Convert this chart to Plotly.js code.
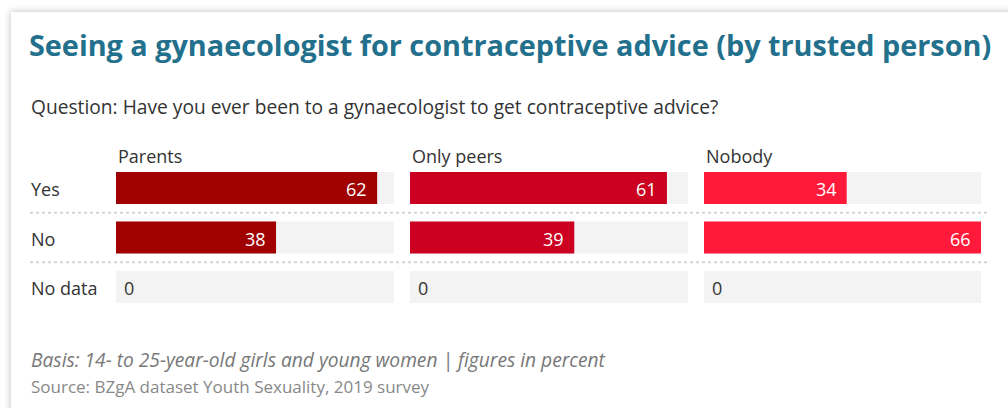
<!DOCTYPE html>
<html>
<head>
<meta charset="utf-8">
<script src="https://cdn.plot.ly/plotly-3.0.1.min.js"></script>
<style>
  html, body { margin:0; padding:0; background:#ffffff; width:1008px; height:408px; overflow:hidden; }
  #card { position:absolute; left:11px; top:12px; width:1020px; height:420px; background:#fff;
          box-shadow: 0 0 7px rgba(0,0,0,0.28); }
  #chart { position:absolute; left:0; top:0; width:1008px; height:408px; }
</style>
</head>
<body>
<div id="card"></div>
<div id="chart"></div>
<script>
// ---- data ----
const answers = ["Yes", "No", "No data"];
const groups = ["Parents", "Only peers", "Nobody"];
const parents = [62, 38, 0];
const onlyPeers = [61, 39, 0];
const nobody = [34, 66, 0];
const groupColors = ["#a00000", "#cc0020", "#ff1a3c"];

const titleText = "Seeing a gynaecologist for contraceptive advice (by trusted person)";
const questionText = "Question: Have you ever been to a gynaecologist to get contraceptive advice?";
const basisText = "Basis: 14- to 25-year-old girls and young women | figures in percent";
const sourceText = "Source: BZgA dataset Youth Sexuality, 2019 survey";

const series = [parents, onlyPeers, nobody];
const maxVal = Math.max(...series.flat());

const W = 1008, H = 408;
const font = "'Open Sans', Lato, sans-serif";
const xDomains = [[116, 394], [410, 688], [704, 981]].map(d => [d[0] / W, d[1] / W]);
const yDomain = [1 - 311.75 / H, 1 - 163.25 / H];
const barW = 0.646;
const idx = answers.map((_, i) => i);

const traces = [];
const layout = {
  width: W, height: H,
  margin: { l: 0, r: 0, t: 0, b: 0 },
  paper_bgcolor: "rgba(0,0,0,0)",
  plot_bgcolor: "rgba(0,0,0,0)",
  barmode: "overlay",
  showlegend: false,
  font: { family: font, color: "#333" },
  title: {
    text: "<b>" + titleText + "</b>",
    x: 29 / W, xanchor: "left", xref: "paper",
    y: 1 - 46 / H, yanchor: "middle", yref: "paper",
    font: { family: font, size: 28.8, color: "#23708d" }
  },
  annotations: [],
  shapes: []
};

series.forEach((vals, g) => {
  const xa = g === 0 ? "x" : "x" + (g + 1);
  const ya = g === 0 ? "y" : "y" + (g + 1);
  // background track
  traces.push({
    type: "bar", orientation: "h", x: idx.map(() => maxVal), y: idx,
    xaxis: xa, yaxis: ya, width: barW, marker: { color: "#f3f3f3" },
    hoverinfo: "skip"
  });
  traces.push({
    type: "bar", orientation: "h", x: vals, y: idx,
    xaxis: xa, yaxis: ya, width: barW,
    marker: { color: groupColors[g], line: { width: 0 } },
    hoverinfo: "skip"
  });
  vals.forEach((v, i) => {
    layout.annotations.push({
      text: String(v), xref: xa, yref: ya, x: v, y: i,
      xanchor: v > 0 ? "right" : "left", xshift: v > 0 ? -8 : 6,
      yanchor: "middle", yshift: -1, showarrow: false,
      font: { family: font, size: 18, color: v > 0 ? "#ffffff" : "#333333" }
    });
  });
  const xk = g === 0 ? "xaxis" : "xaxis" + (g + 1);
  const yk = g === 0 ? "yaxis" : "yaxis" + (g + 1);
  layout[xk] = { domain: xDomains[g], range: [0, maxVal], visible: false, fixedrange: true, anchor: ya };
  layout[yk] = { domain: yDomain, range: [answers.length - 0.5, -0.5], visible: false, fixedrange: true, anchor: xa };
  layout.annotations.push({
    text: groups[g], xref: xa + " domain", x: 0, xanchor: "left",
    yref: "paper", y: 1 - 156 / H, yanchor: "middle", showarrow: false,
    font: { family: font, size: 18, color: "#333" }
  });
});

answers.forEach((a, i) => {
  layout.annotations.push({
    text: a, xref: "paper", x: 29 / W, xanchor: "left",
    yref: "y", y: i, yanchor: "middle", yshift: -1, showarrow: false,
    font: { family: font, size: 18, color: "#333" }
  });
});
for (let i = 0; i < answers.length - 1; i++) {
  layout.shapes.push({
    type: "line", xref: "paper", x0: 30 / W, x1: 990 / W,
    yref: "y", y0: i + 0.5, y1: i + 0.5,
    line: { color: "#d4d4d4", width: 2, dash: "dot" }
  });
}

layout.annotations.push({
  text: questionText, xref: "paper", x: 29 / W, xanchor: "left",
  yref: "paper", y: 1 - 107 / H, yanchor: "middle", showarrow: false,
  font: { family: font, size: 19.2, color: "#333" }
});
layout.annotations.push({
  text: "<i>" + basisText + "</i>", xref: "paper", x: 29 / W, xanchor: "left",
  yref: "paper", y: 1 - 359 / H, yanchor: "middle", showarrow: false,
  font: { family: font, size: 19.2, color: "#777" }
});
layout.annotations.push({
  text: sourceText, xref: "paper", x: 29 / W, xanchor: "left",
  yref: "paper", y: 1 - 386 / H, yanchor: "middle", showarrow: false,
  font: { family: font, size: 17, color: "#888" }
});

Plotly.newPlot("chart", traces, layout, { displayModeBar: false, staticPlot: true });
</script>
</body>
</html>
